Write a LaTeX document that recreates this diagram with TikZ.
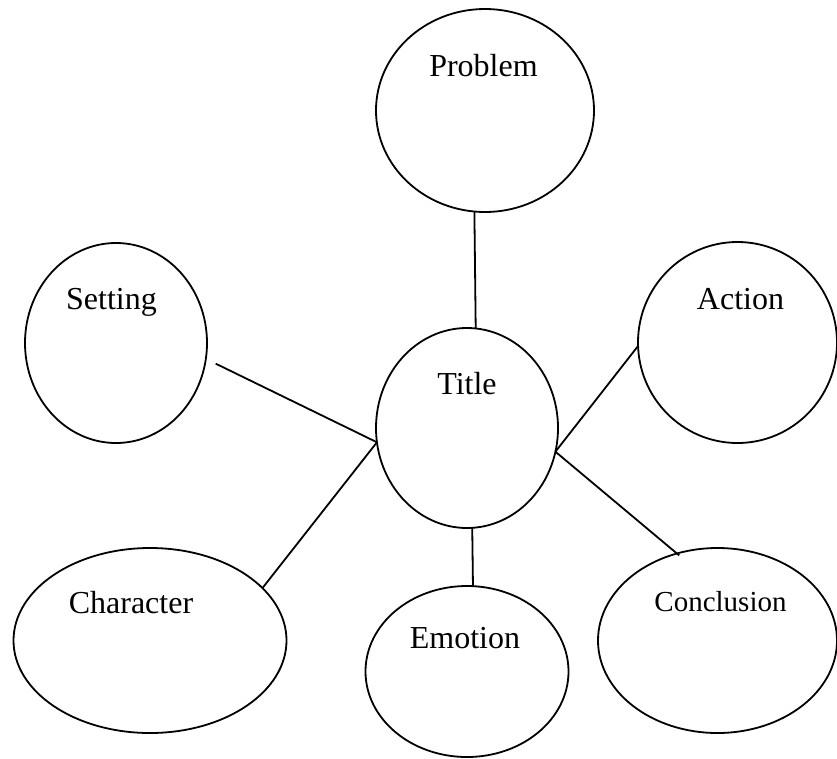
\documentclass[tikz,border=0pt]{standalone}
\usepackage{fontspec}
\setmainfont{Liberation Serif}
\usetikzlibrary{shapes.geometric}
\begin{document}
\begin{tikzpicture}[x=1pt,y=-1pt,
  bubble/.style={draw=black,line width=1.8pt,ellipse,inner sep=0pt,outer sep=0pt},
  caption/.style={anchor=base,inner sep=0pt,font=\fontsize{32}{38}\selectfont},
  link/.style={draw=black,line width=1.8pt}]
  \useasboundingbox (0,0) rectangle (837,758);
  % bubbles
  \node[bubble,minimum width=218pt,minimum height=203pt] (problem) at (485,110.5) {};
  \node[bubble,minimum width=182pt,minimum height=200pt] (title) at (467,428) {};
  \node[bubble,minimum width=182pt,minimum height=200pt] (setting) at (116,343) {};
  \node[bubble,minimum width=199pt,minimum height=201pt] (action) at (737.5,342.5) {};
  \node[bubble,minimum width=273pt,minimum height=185pt] (character) at (150,640.5) {};
  \node[bubble,minimum width=203pt,minimum height=171pt] (emotion) at (467,671.5) {};
  \node[bubble,minimum width=239pt,minimum height=185pt] (conclusion) at (717.5,640.5) {};
  % captions
  \node[caption] (tProblem) at (483.5,76) {Problem};
  \node[caption] (tTitle) at (467,394) {Title};
  \node[caption] (tSetting) at (111.5,309) {Setting};
  \node[caption] (tAction) at (740.5,309) {Action};
  \node[caption] (tCharacter) at (131,613) {Character};
  \node[caption] (tEmotion) at (465,648) {Emotion};
  \node[caption,font=\fontsize{29}{35}\selectfont] (tConclusion) at (720.5,611) {Conclusion};
  % connectors
  \draw[link] (problem.264.4) -- (title.85);
  \draw[link,shorten >=11pt] (title.189.4) -- (setting.-10.7);
  \draw[link] (title.189.4) -- (character.25.7);
  \draw[link] (title.-15) -- (action.182.3);
  \draw[link,shorten >=-3pt] (title.-15) -- (conclusion.115);
  \draw[link] (title.273.4) -- (emotion.86);
\end{tikzpicture}
\end{document}
